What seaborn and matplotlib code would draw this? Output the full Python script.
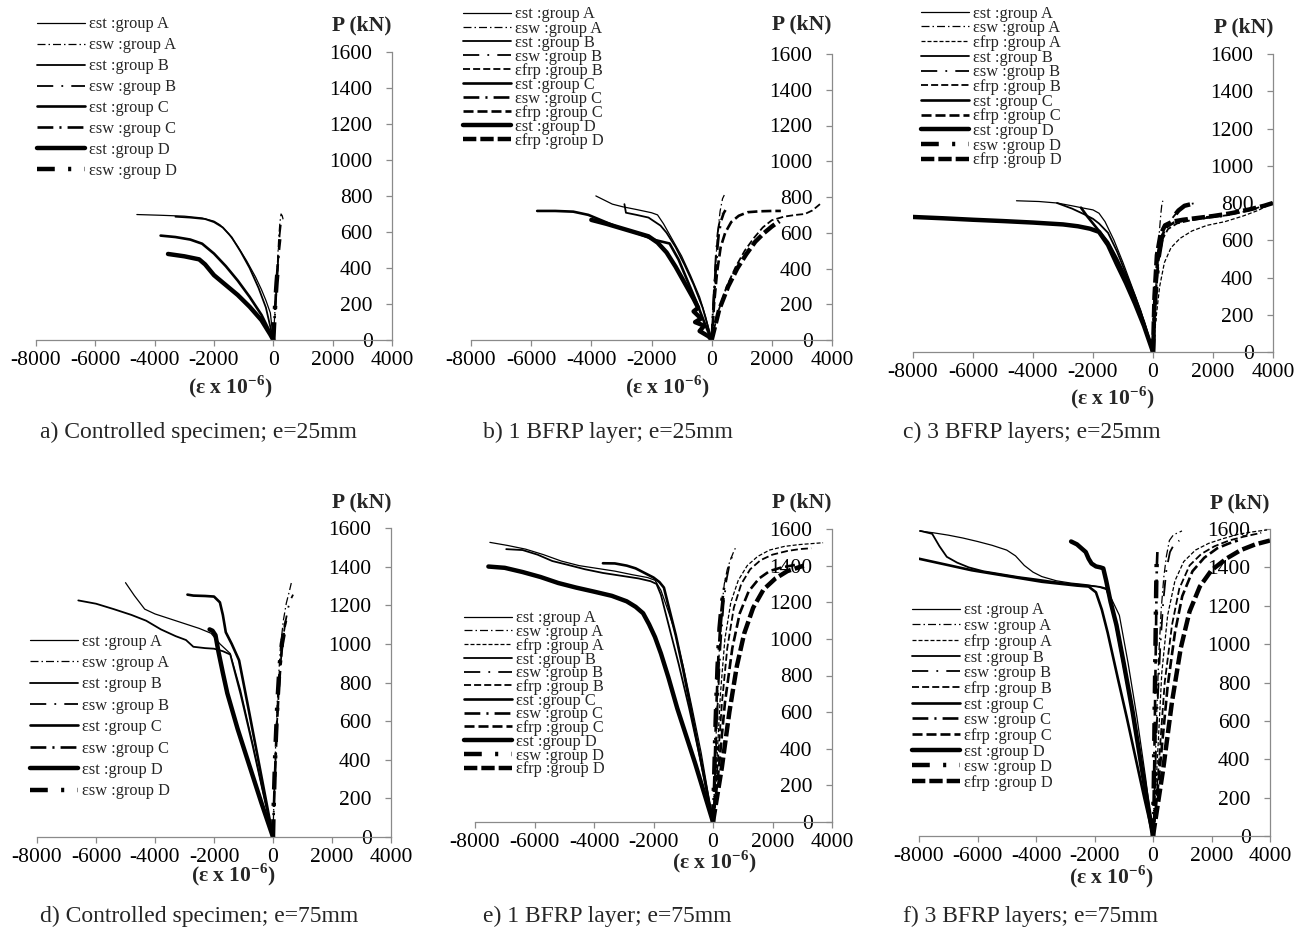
import matplotlib
matplotlib.use('Agg')
import matplotlib.pyplot as plt
import seaborn as sns

W, H = 1309, 932

# ---- data: (strain x1e-6, load kN) ----
# a) controlled specimen, e=25mm
a_est_A = ([-4600, -3800, -3000, -2400, -2000, -1800, -1500, -1200, -900, -600, -400, -250, -100, 0],
           [697, 693, 688, 678, 660, 640, 590, 520, 440, 350, 280, 220, 150, 0])
a_est_B = ([-3300, -2800, -2300, -2000, -1700, -1400, -1100, -800, -500, -250, 0],
           [685, 680, 672, 655, 625, 570, 490, 400, 290, 180, 0])
a_est_C = ([-3800, -3300, -2800, -2400, -2000, -1600, -1200, -800, -400, -100, 0],
           [580, 572, 558, 535, 480, 410, 330, 240, 140, 40, 0])
a_est_D = ([-3550, -3000, -2500, -2300, -2000, -1600, -1200, -800, -400, -100, 0],
           [478, 465, 448, 420, 360, 305, 250, 185, 110, 30, 0])
a_esw_A = ([0, 40, 90, 140, 180, 220, 260, 300, 330], [0, 120, 280, 430, 560, 650, 700, 690, 670])
a_esw_B = ([0, 60, 120, 170, 210, 250], [0, 150, 320, 470, 580, 640])
a_esw_C = ([0, 50, 100, 150, 190, 230], [0, 140, 300, 420, 500, 560])
a_esw_D = ([0, 30, 70, 110, 140], [0, 100, 220, 320, 380])

# b) 1 BFRP layer, e=25mm
b_est_A = ([-3850, -3300, -2950, -2500, -2000, -1800, -1600, -1300, -1000, -700, -400, -200, 0],
           [806, 760, 745, 730, 712, 700, 650, 560, 470, 360, 240, 130, 0])
b_est_B = ([-2900, -2850, -2500, -2100, -1700, -1500, -1200, -900, -600, -300, 0],
           [760, 712, 700, 685, 640, 600, 520, 420, 310, 180, 0])
b_est_C = ([-5800, -5200, -4600, -4100, -3600, -3100, -2600, -2200, -1900, -1400, -1100, -800, -500, -200, 0],
           [722, 722, 718, 700, 665, 630, 605, 580, 560, 540, 450, 330, 210, 80, 0])
b_est_D = ([-4000, -3500, -3000, -2500, -2100, -1800, -1500, -1200, -900, -600, -450, -600, -350, -550, -250, -400, -100, 0],
           [672, 650, 625, 600, 580, 545, 490, 410, 320, 230, 180, 160, 120, 100, 80, 50, 20, 0])
b_esw_A = ([0, 40, 80, 130, 200, 280, 360, 420], [0, 120, 260, 420, 600, 720, 790, 811])
b_esw_B = ([0, 30, 80, 140, 200, 280, 360], [0, 130, 300, 480, 600, 680, 710])
b_esw_C = ([0, 50, 110, 170, 240, 320, 400, 460], [0, 160, 330, 480, 600, 670, 710, 727])
b_efrp_B = ([0, 200, 500, 800, 1100, 1400, 1700, 2000, 2400, 2800, 3100, 3350, 3600],
            [0, 150, 300, 410, 500, 570, 630, 670, 690, 700, 705, 725, 760])
b_efrp_C = ([0, 80, 180, 300, 450, 650, 900, 1200, 1600, 2000, 2300],
            [0, 200, 380, 520, 600, 660, 695, 715, 720, 722, 722])
b_efrp_D = ([0, 250, 550, 850, 1150, 1450, 1750, 2000, 2250],
            [0, 170, 300, 400, 480, 550, 600, 635, 665])

# c) 3 BFRP layers, e=25mm
c_est_A = ([-4550, -3800, -3200, -2700, -2300, -2000, -1800, -1600, -1300, -1000, -700, -400, 0],
           [812, 808, 800, 785, 772, 763, 745, 700, 600, 480, 350, 220, 0])
c_est_B = ([-3200, -2700, -2300, -2000, -1800, -1500, -1200, -900, -600, -300, 0],
           [800, 770, 740, 715, 690, 640, 540, 420, 300, 160, 0])
c_est_C = ([-2400, -2200, -2000, -1800, -1500, -1200, -900, -600, -300, 0],
           [775, 730, 690, 650, 590, 500, 400, 290, 160, 0])
c_est_D = ([-8000, -7000, -6000, -5000, -4000, -3000, -2500, -2100, -1800, -1500, -1200, -900, -600, -300, 0],
           [725, 718, 710, 703, 695, 685, 675, 662, 645, 575, 470, 370, 260, 140, 0])
c_esw_A = ([0, 60, 130, 200, 260, 300, 330], [0, 250, 450, 620, 740, 800, 812])
c_esw_B = ([0, 100, 200, 350, 550, 750, 950, 1150, 1400, 1600], [0, 300, 500, 630, 700, 740, 770, 790, 800, 800])
c_esw_D = ([0, 80, 180, 300, 450, 650, 850, 1050, 1300, 1550], [0, 300, 500, 620, 680, 720, 760, 785, 795, 800])
c_efrp_A = ([0, 100, 220, 380, 600, 900, 1300, 1800, 2400, 3000, 3500, 4000],
            [0, 180, 350, 480, 560, 610, 650, 680, 700, 730, 760, 800])
c_efrp_B = ([0, 80, 180, 300, 500, 800, 1200, 1800, 2500, 3200, 4000],
            [0, 280, 480, 600, 660, 690, 705, 720, 735, 760, 800])
c_efrp_C = ([0, 60, 150, 280, 450, 700, 1000, 1400, 1900, 2300],
            [0, 300, 520, 620, 670, 695, 705, 715, 725, 730])
c_efrp_D = ([0, 50, 130, 250, 400, 650, 1000, 1500, 2000, 2600, 3200, 3700, 4000],
            [0, 300, 520, 630, 680, 700, 710, 720, 730, 745, 765, 785, 800])

# d) controlled specimen, e=75mm
d_est_A = ([-5000, -4700, -4350, -4000, -3500, -3000, -2500, -2100, -1800, -1450, -1100, -700, -350, 0],
           [1317, 1250, 1180, 1155, 1130, 1105, 1080, 1055, 1000, 950, 760, 490, 240, 0])
d_est_B = ([-6600, -6000, -5400, -4800, -4300, -3800, -3300, -2950, -2700, -2300, -2000, -1700, -1450, -1100, -700, -350, 0],
           [1225, 1208, 1180, 1150, 1120, 1075, 1040, 1020, 985, 978, 975, 962, 945, 740, 480, 240, 0])
d_est_C = ([-2900, -2700, -2300, -2000, -1800, -1700, -1600, -1400, -1150, -800, -400, 0],
           [1255, 1250, 1248, 1245, 1215, 1150, 1060, 1000, 915, 640, 320, 0])
d_est_D = ([-2150, -2050, -1950, -1850, -1700, -1550, -1200, -800, -400, 0],
           [1075, 1068, 1045, 960, 850, 745, 560, 370, 180, 0])
d_esw_A = ([0, 40, 100, 170, 250, 350, 450, 550, 620], [0, 250, 520, 780, 980, 1120, 1210, 1270, 1315])
d_esw_B = ([0, 60, 140, 230, 330, 430, 520, 600, 680], [0, 300, 600, 850, 1020, 1120, 1190, 1230, 1255])
d_esw_C = ([0, 50, 120, 200, 290, 380, 440], [0, 250, 540, 780, 960, 1080, 1120])
d_esw_D = ([0, 30, 80, 150, 220, 300, 360], [0, 200, 450, 700, 880, 1000, 1050])

# e) 1 BFRP layer, e=75mm
e_est_A = ([-7500, -6900, -6300, -5700, -5100, -4500, -3900, -3300, -2700, -2200, -1950, -1750, -1500, -1300, -1000, -700, -400, 0],
           [1527, 1510, 1490, 1460, 1425, 1400, 1385, 1370, 1350, 1335, 1320, 1265, 1150, 1050, 850, 620, 380, 0])
e_est_B = ([-6950, -6400, -5900, -5400, -4900, -4300, -3700, -3100, -2500, -2100, -1900, -1750, -1450, -1150, -800, -450, 0],
           [1490, 1485, 1460, 1425, 1405, 1380, 1360, 1345, 1330, 1315, 1300, 1240, 1050, 860, 620, 360, 0])
e_est_C = ([-3700, -3300, -2900, -2600, -2300, -2000, -1800, -1650, -1450, -1250, -1000, -700, -400, 0],
           [1413, 1412, 1400, 1385, 1360, 1335, 1310, 1280, 1150, 1020, 830, 580, 330, 0])
e_est_D = ([-7550, -7000, -6400, -5800, -5200, -4600, -4000, -3400, -2900, -2600, -2350, -2150, -1950, -1750, -1500, -1200, -900, -600, -300, 0],
           [1395, 1388, 1365, 1338, 1305, 1280, 1258, 1235, 1205, 1175, 1140, 1080, 1010, 920, 790, 620, 470, 320, 160, 0])
e_esw_A = ([0, 60, 130, 200, 280, 380, 480, 580, 680, 750], [0, 250, 600, 900, 1150, 1300, 1380, 1430, 1470, 1495])
e_esw_B = ([0, 80, 160, 250, 350, 450, 560, 680], [0, 300, 650, 950, 1180, 1320, 1410, 1470])
e_esw_C = ([0, 50, 110, 180, 260, 350, 440], [0, 280, 620, 900, 1120, 1260, 1330])
e_esw_D = ([0, 40, 90, 150, 220, 300, 370], [0, 250, 560, 840, 1060, 1200, 1260])
e_efrp_A = ([0, 120, 250, 400, 600, 850, 1150, 1500, 1900, 2400, 2900, 3300, 3700],
            [0, 300, 700, 1000, 1200, 1320, 1400, 1450, 1485, 1505, 1515, 1520, 1525])
e_efrp_B = ([0, 150, 300, 480, 700, 950, 1250, 1600, 2000, 2500, 2900, 3300],
            [0, 300, 650, 950, 1170, 1300, 1380, 1430, 1460, 1480, 1490, 1495])
e_efrp_C = ([0, 200, 400, 650, 900, 1200, 1550, 1900, 2300, 2800],
            [0, 300, 650, 950, 1140, 1260, 1330, 1370, 1390, 1405])
e_efrp_D = ([0, 300, 550, 800, 1050, 1350, 1700, 2100, 2500, 3050],
            [0, 300, 600, 850, 1030, 1170, 1270, 1330, 1370, 1400])

# f) 3 BFRP layers, e=75mm
f_est_A = ([-8000, -7500, -7000, -6500, -6000, -5500, -5000, -4700, -4400, -4100, -3800, -3300, -2800, -2300, -1900, -1600, -1400, -1150, -850, -550, -250, 0],
           [1590, 1580, 1568, 1553, 1535, 1515, 1490, 1460, 1410, 1375, 1352, 1330, 1318, 1310, 1300, 1285, 1230, 1150, 900, 620, 300, 0])
f_est_B = ([-7950, -7550, -7300, -7050, -6700, -6300, -5800, -5200, -4600, -4000, -3400, -2800, -2200, -1800, -1600, -1400, -1000, -700, -400, 0],
           [1590, 1575, 1510, 1455, 1425, 1400, 1380, 1365, 1350, 1338, 1325, 1313, 1305, 1298, 1290, 1200, 880, 640, 350, 0])
f_est_C = ([-8000, -7400, -6800, -6200, -5600, -5000, -4400, -3800, -3200, -2600, -2200, -1950, -1750, -1550, -1200, -900, -600, -300, 0],
           [1445, 1425, 1405, 1385, 1370, 1355, 1340, 1325, 1315, 1305, 1300, 1270, 1180, 1060, 820, 620, 410, 200, 0])
f_est_D = ([-2800, -2600, -2450, -2300, -2200, -2100, -1950, -1800, -1700, -1600, -1450, -1250, -1000, -700, -400, 0],
           [1535, 1520, 1500, 1480, 1445, 1420, 1405, 1400, 1395, 1330, 1220, 1100, 900, 650, 370, 0])
f_esw_A = ([0, 60, 130, 200, 280, 370, 460, 560, 700, 850, 990], [0, 300, 650, 950, 1180, 1350, 1460, 1540, 1570, 1580, 1590])
f_esw_B = ([0, 80, 160, 250, 350, 460, 580, 720, 900], [0, 350, 700, 990, 1220, 1390, 1480, 1520, 1540])
f_esw_C = ([0, 40, 80, 110, 130, 150], [0, 350, 800, 1150, 1400, 1480])
f_esw_D = ([0, 30, 60, 90, 110, 130], [0, 300, 700, 1050, 1300, 1460])
f_efrp_A = ([0, 150, 300, 500, 750, 1050, 1450, 1900, 2400, 2900, 3400, 3900],
            [0, 400, 850, 1150, 1330, 1430, 1490, 1525, 1550, 1572, 1585, 1595])
f_efrp_B = ([0, 200, 400, 650, 900, 1250, 1650, 2100, 2600, 3100, 3700],
            [0, 380, 800, 1100, 1290, 1410, 1470, 1510, 1540, 1560, 1580])
f_efrp_C = ([0, 250, 500, 750, 1000, 1350, 1750, 2200, 2600, 2900],
            [0, 380, 780, 1060, 1250, 1380, 1450, 1500, 1525, 1540])
f_efrp_D = ([0, 350, 650, 950, 1250, 1600, 2000, 2500, 3000, 3500, 4000],
            [0, 350, 700, 980, 1170, 1300, 1385, 1445, 1490, 1520, 1540])

x_ticks = [-8000, -6000, -4000, -2000, 0, 2000, 4000]
y_ticks = [0, 200, 400, 600, 800, 1000, 1200, 1400, 1600]

# line styles: (linewidth pt, linestyle)
STYLES = {
    'est A': (0.9, '-'), 'est B': (1.3, '-'), 'est C': (1.9, '-'), 'est D': (3.2, '-'),
    'esw A': (0.9, (0, (6.4, 2.4, 1.2, 2.4))), 'esw B': (1.3, (0, (9, 4.5, 1, 4.5))),
    'esw C': (1.9, (0, (6, 2.3, 0.8, 2.3))), 'esw D': (3.2, (0, (4, 3, 0.7, 3))),
    'efrp A': (0.9, (0, (3.2, 1.6))), 'efrp B': (1.3, (0, (3.9, 1.7))),
    'efrp C': (1.9, (0, (3.8, 1.5))), 'efrp D': (3.2, (0, (3, 0.9))),
}

def lab(key):
    kind, grp = key.split()
    # key 'est A' -> 'εst :group A'
    return f'ε{kind[1:]} :group {grp}'

panels = [
    dict(rect=(36, 52, 392, 340), leg=(37, 26, 0.30), xlab=(230, 387), plab=(25,),
         cap=(40, 432, 'a) Controlled specimen; e=25mm'),
         series=[('est A', a_est_A), ('esw A', a_esw_A), ('est B', a_est_B), ('esw B', a_esw_B),
                 ('est C', a_est_C), ('esw C', a_esw_C), ('est D', a_est_D), ('esw D', a_esw_D)]),
    dict(rect=(471, 54, 832, 340), leg=(463, 16, -0.12), xlab=(667, 387), plab=(24,),
         cap=(483, 432, 'b) 1 BFRP layer; e=25mm'),
         series=[('est A', b_est_A), ('esw A', b_esw_A), ('est B', b_est_B), ('esw B', b_esw_B),
                 ('efrp B', b_efrp_B), ('est C', b_est_C), ('esw C', b_esw_C), ('efrp C', b_efrp_C),
                 ('est D', b_est_D), ('efrp D', b_efrp_D)]),
    dict(rect=(913, 54, 1273, 352), leg=(921, 15, -0.08), xlab=(1112, 398), plab=(27,),
         cap=(903, 432, 'c) 3 BFRP layers; e=25mm'),
         series=[('est A', c_est_A), ('esw A', c_esw_A), ('efrp A', c_efrp_A), ('est B', c_est_B),
                 ('esw B', c_esw_B), ('efrp B', c_efrp_B), ('est C', c_est_C), ('efrp C', c_efrp_C),
                 ('est D', c_est_D), ('esw D', c_esw_D), ('efrp D', c_efrp_D)]),
    dict(rect=(37, 528, 391, 837), leg=(30, 643, 0.33), xlab=(233, 875), plab=(502,),
         cap=(40, 916, 'd) Controlled specimen; e=75mm'),
         series=[('est A', d_est_A), ('esw A', d_esw_A), ('est B', d_est_B), ('esw B', d_esw_B),
                 ('est C', d_est_C), ('esw C', d_esw_C), ('est D', d_est_D), ('esw D', d_esw_D)]),
    dict(rect=(475, 529, 832, 822), leg=(464, 620, -0.14), xlab=(714, 862), plab=(502,),
         cap=(483, 916, 'e) 1 BFRP layer; e=75mm'),
         series=[('est A', e_est_A), ('esw A', e_esw_A), ('efrp A', e_efrp_A), ('est B', e_est_B),
                 ('esw B', e_esw_B), ('efrp B', e_efrp_B), ('est C', e_est_C), ('esw C', e_esw_C),
                 ('efrp C', e_efrp_C), ('est D', e_est_D), ('esw D', e_esw_D), ('efrp D', e_efrp_D)]),
    dict(rect=(919, 529, 1270, 836), leg=(912, 612, -0.02), xlab=(1111, 877), plab=(503,),
         cap=(903, 916, 'f) 3 BFRP layers; e=75mm'),
         series=[('est A', f_est_A), ('esw A', f_esw_A), ('efrp A', f_efrp_A), ('est B', f_est_B),
                 ('esw B', f_esw_B), ('efrp B', f_efrp_B), ('est C', f_est_C), ('esw C', f_esw_C),
                 ('efrp C', f_efrp_C), ('est D', f_est_D), ('esw D', f_esw_D), ('efrp D', f_efrp_D)]),
]

sns.set_theme(style='white')
plt.rcParams['font.family'] = ['Liberation Serif', 'DejaVu Serif']
plt.rcParams['mathtext.fontset'] = 'custom'
plt.rcParams['mathtext.rm'] = 'Liberation Serif'
plt.rcParams['mathtext.bf'] = 'Liberation Serif:bold'

AXIS_GREY = '#8a8a8a'
fig = plt.figure(figsize=(W / 100, H / 100), dpi=100)

for p in panels:
    l, t, r, b = p['rect']
    ax = fig.add_axes([l / W, 1 - b / H, (r - l) / W, (b - t) / H])
    for key, (xs, ys) in p['series']:
        lw, ls = STYLES[key]
        sns.lineplot(x=xs, y=ys, ax=ax, sort=False, estimator=None, color='black',
                     linewidth=lw, linestyle=ls, label=lab(key))
    ax.set_xlim(-8000, 4000)
    ax.set_ylim(0, 1600)
    ax.set_xticks(x_ticks)
    ax.set_yticks(y_ticks)
    ax.set_xticklabels([str(v) for v in x_ticks])
    ax.set_yticklabels([str(v) for v in y_ticks])
    ax.set_xlabel('')
    ax.set_ylabel('')
    for s in ['top', 'right']:
        ax.spines[s].set_visible(False)
    # value axis sits at the right end (x = 4000), labels on its left side
    ax.spines['left'].set_position(('axes', 1.0))
    for s in ['left', 'bottom']:
        ax.spines[s].set_color(AXIS_GREY)
        ax.spines[s].set_linewidth(0.9)
    ax.tick_params(axis='both', direction='out', length=4, width=0.9, color=AXIS_GREY,
                   labelsize=15.5, labelcolor='black', bottom=True, left=True)
    ax.tick_params(axis='y', pad=10)
    ax.tick_params(axis='x', pad=4)
    ax.set_facecolor('none')

    lx, ly, lsp = p['leg']
    handles = ax.get_lines()
    labels = [h.get_label() for h in handles]
    ax.legend(handles, labels, loc='upper left', bbox_to_anchor=(lx / W, 1 - (ly - 9.5) / H),
              bbox_transform=fig.transFigure, frameon=False, fontsize=11.8,
              handlelength=2.95, handletextpad=0.25, labelspacing=lsp,
              borderpad=0, borderaxespad=0)

    fig.text(r / W, 1 - p['plab'][0] / H, 'P (kN)', ha='right', va='center',
             fontsize=15.5, fontweight='bold')
    xx, xy = p['xlab']
    fig.text(xx / W, 1 - xy / H, r'(ε x 10$^{\mathbf{-6}}$)', ha='center', va='center',
             fontsize=15.5, fontweight='bold')
    cx, cy, ctext = p['cap']
    fig.text(cx / W, 1 - cy / H, ctext, ha='left', va='center', fontsize=17)

fig.savefig('out.png', dpi=100)
